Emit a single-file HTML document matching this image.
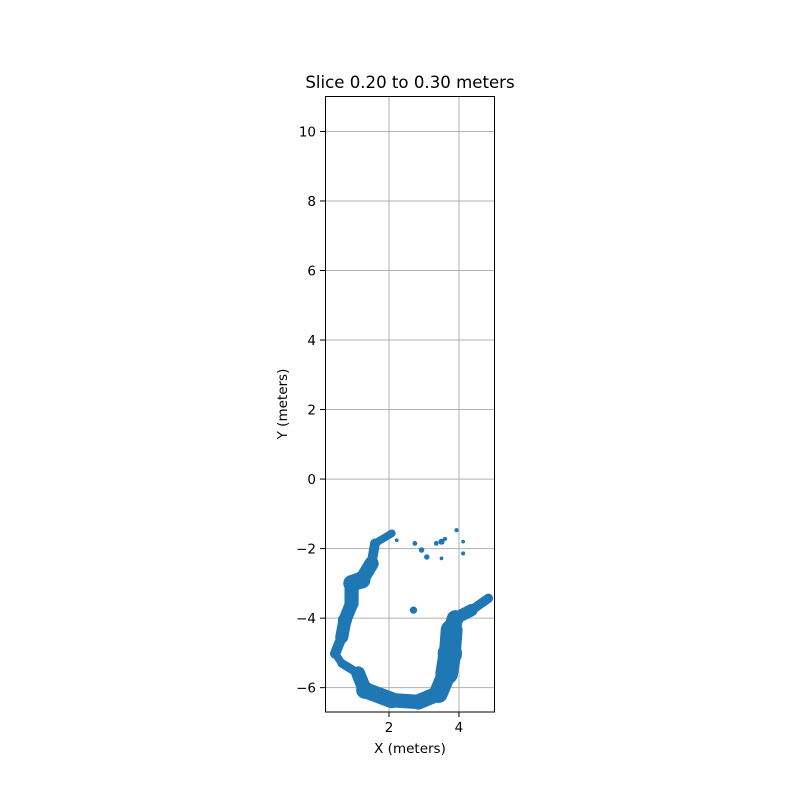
<!DOCTYPE html>
<html><head><meta charset="utf-8"><style>body{margin:0;background:#fff}svg{display:block}text{font-family:"DejaVu Sans","Liberation Sans",sans-serif;fill:#000}</style></head>
<body>
<svg id="chart" width="800" height="800">
<rect width="800" height="800" fill="#fff"/>
<g id="grid"></g>
<g id="marks"></g>
<rect x="325.5" y="96.5" width="169" height="615.5" fill="none" stroke="#000" stroke-width="1"/>
<g id="ticks"></g>
<text x="410" y="88" font-size="16.6" text-anchor="middle">Slice 0.20 to 0.30 meters</text>
<text x="410" y="753" font-size="13.5" text-anchor="middle">X (meters)</text>
<text x="287" y="404" font-size="13.5" text-anchor="middle" transform="rotate(-90 287 404)">Y (meters)</text>
</svg>
<script>
const traceX=[2.08,1.6,1.5,1.22,0.93,0.93,0.74,0.65,0.46,0.65,1.12,1.31,2.08,2.84,3.41,3.65,3.74,3.79,3.89,4.36,4.84];
const traceY=[-1.56,-1.85,-2.43,-2.9,-3.0,-3.58,-4.06,-4.54,-5.02,-5.3,-5.59,-6.07,-6.36,-6.41,-6.17,-5.59,-5.02,-4.35,-4.01,-3.77,-3.43];
const traceW=[0.2,0.24,0.32,0.5,0.45,0.36,0.4,0.35,0.24,0.2,0.3,0.5,0.42,0.4,0.48,0.6,0.7,0.55,0.4,0.3,0.24];
const extraX=[3.08,2.93,3.5,3.93,4.12,4.12,3.5,2.7,2.22,2.74,3.35,3.6];
const extraY=[-2.24,-2.04,-1.8,-1.47,-1.8,-2.14,-2.28,-3.77,-1.76,-1.85,-1.85,-1.72];
const extraS=[0.1,0.1,0.12,0.06,0.05,0.06,0.05,0.15,0.05,0.08,0.08,0.06];
const xTicks=[2,4];
const yTicks=[-6,-4,-2,0,2,4,6,8,10];
const X0=325,X1=495,Y0=96,Y1=712,xmin=0.17,xmax=5.03,ymin=-6.7,ymax=11.02;
const sx=v=>X0+(v-xmin)/(xmax-xmin)*(X1-X0);
const sy=v=>Y1-(v-ymin)/(ymax-ymin)*(Y1-Y0);
const pxPerUnit=(X1-X0)/(xmax-xmin);
const NS="http://www.w3.org/2000/svg";
const grid=document.getElementById('grid'),marks=document.getElementById('marks'),ticks=document.getElementById('ticks');
function mk(tag,attrs,parent){const e=document.createElementNS(NS,tag);for(const k in attrs)e.setAttribute(k,attrs[k]);parent.appendChild(e);return e;}
xTicks.forEach(t=>{const x=sx(t);
const g=mk('line',{x1:x,x2:x,y1:Y0,y2:Y1,stroke:'#b0b0b0','stroke-width':1},grid);


mk('line',{x1:x,x2:x,y1:Y1,y2:Y1+5,stroke:'#000'},ticks);
const l=mk('text',{x:x,y:Y1+20,'font-size':13.5,'text-anchor':'middle'},ticks);l.textContent=t;

});
yTicks.forEach(t=>{const y=sy(t);
const g=mk('line',{x1:X0,x2:X1,y1:y,y2:y,stroke:'#b0b0b0','stroke-width':1},grid);


mk('line',{x1:X0-5,x2:X0,y1:y,y2:y,stroke:'#000'},ticks);
const l=mk('text',{x:X0-9,y:y+5,'font-size':13.5,'text-anchor':'end'},ticks);l.textContent=(t<0?'\u2212'+(-t):t);

});
for(let i=0;i<traceX.length-1;i++){
const s=mk('line',{x1:sx(traceX[i]),y1:sy(traceY[i]),x2:sx(traceX[i+1]),y2:sy(traceY[i+1]),stroke:'#1f77b4','stroke-width':(traceW[i]+traceW[i+1])/2*pxPerUnit,'stroke-linecap':'round'},marks);

}
traceX.forEach((v,i)=>{const c=mk('circle',{cx:sx(v),cy:sy(traceY[i]),r:traceW[i]*pxPerUnit/2,fill:'#1f77b4'},marks);

});
extraX.forEach((v,i)=>{const c=mk('circle',{cx:sx(v),cy:sy(extraY[i]),r:extraS[i]*pxPerUnit/2+1,fill:'#1f77b4'},marks);

});
</script>
</body></html>
